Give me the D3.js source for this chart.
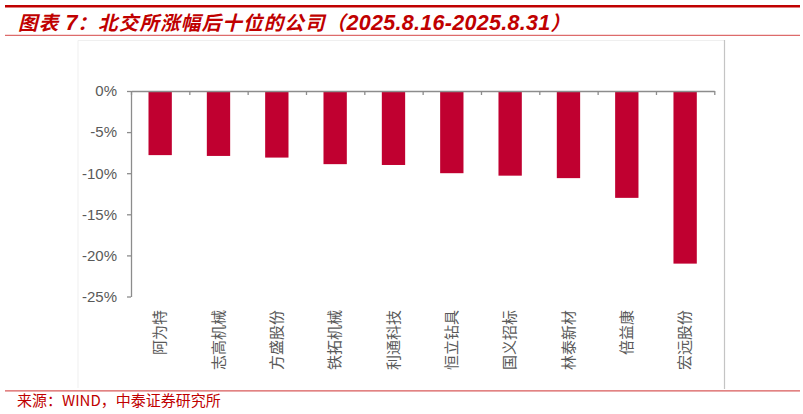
<!DOCTYPE html>
<html>
<head>
<meta charset="utf-8">
<script src="https://cdn.jsdelivr.net/npm/d3@7"></script>
<style>
  body { margin: 0; background: #fff; }
  svg { display: block; }
</style>
</head>
<body>
<div id="chart"></div>
<script>
// data
var companies = ["阿为特", "志高机械", "方盛股份", "铁拓机械", "利通科技",
                 "恒立钻具", "国义招标", "林泰新材", "倍益康", "宏远股份"];
var changes = [-7.8, -7.9, -8.1, -8.9, -9.0, -10.0, -10.3, -10.6, -13.0, -21.0];
var yTicks = [0, -5, -10, -15, -20, -25];

var svgWidth = 803;
var svgHeight = 414;

var plot = { left: 131, right: 714.3, top: 91, bottom: 296.5 };

var red = "#c00000";
var axisGrey = "#8c8c8c";
var textGrey = "#595959";
var cjk = "'Noto Sans CJK SC', 'Noto Sans', sans-serif";
var latin = "'Liberation Sans', Arial, sans-serif";

var svg = d3.select("#chart")
  .append("svg")
  .attr("width", svgWidth)
  .attr("height", svgHeight);

// header rules
svg.append("line")
  .attr("x1", 5).attr("x2", 800).attr("y1", 6.3).attr("y2", 6.3)
  .attr("stroke", red).attr("stroke-width", 2.6);
svg.append("line")
  .attr("x1", 5).attr("x2", 800).attr("y1", 35.3).attr("y2", 35.3)
  .attr("stroke", "#dd6b6b").attr("stroke-width", 1.3);

// title, mixed CJK / latin runs
var title = svg.append("text")
  .attr("x", 18).attr("y", 29.5)
  .attr("fill", red)
  .attr("font-weight", "bold")
  .attr("font-style", "italic");
var runs = [
  ["图表", cjk, 19.5, 1.2],
  [" 7", latin, 21.5, 0],
  ["：北交所涨幅后十位的公司（", cjk, 19.5, 1.2],
  ["2025.8.16-2025.8.31", latin, 21.5, 0.3],
  ["）", cjk, 19.5, 0]
];
runs.forEach(function(r) {
  title.append("tspan")
    .attr("font-family", r[1])
    .attr("font-size", r[2])
    .attr("letter-spacing", r[3])
    .text(r[0]);
});

// faint frame of the pasted chart
svg.append("line")
  .attr("x1", 78).attr("x2", 724).attr("y1", 40.5).attr("y2", 40.5)
  .attr("stroke", "#efefef").attr("stroke-width", 1);
svg.append("line")
  .attr("x1", 78).attr("x2", 78).attr("y1", 40.5).attr("y2", 388)
  .attr("stroke", "#efefef").attr("stroke-width", 1);
svg.append("line")
  .attr("x1", 724.5).attr("x2", 724.5).attr("y1", 40).attr("y2", 389)
  .attr("stroke", "#c4c4c4").attr("stroke-width", 1.2);

// scales
var x = d3.scaleBand()
  .domain(companies)
  .range([plot.left, plot.right])
  .paddingInner(0.6)
  .paddingOuter(0.3);

var xEdges = d3.scaleLinear()
  .domain([0, companies.length])
  .range([plot.left, plot.right]);

var y = d3.scaleLinear()
  .domain([-25, 0])
  .range([plot.bottom, plot.top]);

var chartGroup = svg.append("g");

// bars
chartGroup.selectAll("rect.bar")
  .data(changes)
  .enter()
  .append("rect")
  .attr("class", "bar")
  .attr("x", function(d, i) { return x(companies[i]); })
  .attr("y", y(0))
  .attr("width", x.bandwidth())
  .attr("height", function(d) { return y(d) - y(0); })
  .attr("fill", "#c00030");

// y axis
var leftAxis = d3.axisLeft(y)
  .tickValues(yTicks)
  .tickSize(4)
  .tickSizeOuter(0)
  .tickPadding(10)
  .tickFormat(function(d) { return d + "%"; });

var yAxis = chartGroup.append("g")
  .attr("transform", "translate(" + plot.left + ",0)")
  .call(leftAxis);
yAxis.select(".domain").attr("stroke", axisGrey).attr("stroke-width", 1.3);
yAxis.selectAll(".tick line").attr("stroke", axisGrey).attr("stroke-width", 1.3);
yAxis.selectAll(".tick text")
  .attr("fill", textGrey)
  .attr("font-family", latin)
  .attr("font-size", 15);

// x axis along 0%, ticks between categories pointing down
var bottomAxis = d3.axisBottom(xEdges)
  .tickValues(d3.range(0, companies.length + 1))
  .tickSize(4)
  .tickSizeOuter(0)
  .tickFormat("");

var xAxis = chartGroup.append("g")
  .attr("transform", "translate(0," + y(0) + ")")
  .call(bottomAxis);
xAxis.select(".domain").attr("stroke", axisGrey).attr("stroke-width", 1.3);
xAxis.selectAll(".tick line").attr("stroke", axisGrey).attr("stroke-width", 1.3);

// category labels, rotated
chartGroup.selectAll("text.cat")
  .data(companies)
  .enter()
  .append("text")
  .attr("class", "cat")
  .attr("transform", function(d) {
    return "translate(" + (x(d) + x.bandwidth() / 2) + ",310) rotate(-90)";
  })
  .attr("text-anchor", "end")
  .attr("dy", "0.35em")
  .attr("fill", textGrey)
  .attr("font-family", cjk)
  .attr("font-size", 15)
  .text(function(d) { return d; });

// footer
svg.append("line")
  .attr("x1", 5).attr("x2", 800).attr("y1", 390.8).attr("y2", 390.8)
  .attr("stroke", "#d85a5a").attr("stroke-width", 1.2);

svg.append("text")
  .attr("x", 17).attr("y", 406)
  .attr("fill", red)
  .attr("font-family", cjk)
  .attr("font-size", 15)
  .text("来源：WIND，中泰证券研究所");
</script>
</body>
</html>
